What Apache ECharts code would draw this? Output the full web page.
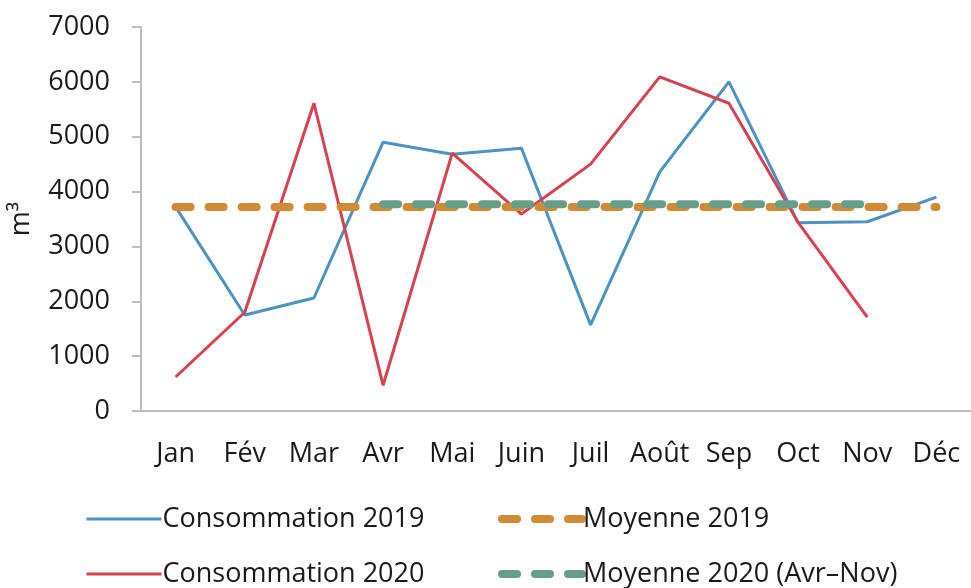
<!DOCTYPE html>
<html>
<head>
<meta charset="utf-8">
<script src="https://cdn.jsdelivr.net/npm/echarts@6/dist/echarts.min.js"></script>
<style>
html,body{margin:0;padding:0;background:#fff;}
#chart{width:971px;height:588px;}
</style>
</head>
<body>
<div id="chart"></div>
<script>
var categories = ['Jan','Fév','Mar','Avr','Mai','Juin','Juil','Août','Sep','Oct','Nov','Déc'];
var conso2019 = [3720, 1750, 2060, 4900, 4680, 4790, 1570, 4360, 6000, 3430, 3450, 3900];
var conso2020 = [620, 1800, 5610, 470, 4700, 3590, 4500, 6090, 5610, 3440, 1710, null];
var moy2019 = [3720, 3720, 3720, 3720, 3720, 3720, 3720, 3720, 3720, 3720, 3720, 3720];
var moy2020 = [null, null, null, 3770, 3770, 3770, 3770, 3770, 3770, 3770, 3770, null];
var yTicks = { min: 0, max: 7000, interval: 1000 };
var seriesNames = ['Consommation 2019', 'Moyenne 2019', 'Consommation 2020', 'Moyenne 2020 (Avr–Nov)'];

var FONT = 'Open Sans';
var FS = 27;
var COLORS = { c19: '#4A93C3', c20: '#D8414F', m19: '#D18C33', m20: '#679E8A' };
var chart = echarts.init(document.getElementById('chart'), null, {renderer: 'canvas'});
var dashed = function (color) {
  return { color: color, width: 8, type: [15, 18], cap: 'round', join: 'round' };
};
var solid = function (color) {
  return { color: color, width: 3, type: 'solid', cap: 'butt' };
};
function legendFor(name, left, top, width, lineStyle) {
  return {
    show: true,
    orient: 'horizontal',
    left: left, top: top,
    itemWidth: width, itemHeight: 14,
    itemStyle: { opacity: 0 },
    textStyle: { fontFamily: FONT, fontSize: FS, color: '#1a1a1a', lineHeight: 34, padding: [0, 0, 0, -4] },
    data: [{ name: name, itemStyle: { opacity: 0 }, lineStyle: lineStyle }]
  };
}
chart.setOption({
  animation: false,
  backgroundColor: '#ffffff',
  textStyle: { fontFamily: FONT },
  grid: { left: 140, top: 27, width: 837, height: 384 },
  legend: [
    legendFor(seriesNames[0], 80, 497, 75, solid(COLORS.c19)),
    legendFor(seriesNames[2], 80, 552, 75, solid(COLORS.c20)),
    legendFor(seriesNames[1], 493, 497, 80, dashed(COLORS.m19)),
    legendFor(seriesNames[3], 493, 552, 80, dashed(COLORS.m20))
  ],
  xAxis: {
    type: 'category',
    data: categories,
    boundaryGap: true,
    axisLine: { lineStyle: { color: '#bcbcbc', width: 2 } },
    axisTick: { show: false },
    axisLabel: { margin: 30, interval: 0, hideOverlap: false, fontFamily: FONT, fontSize: FS, color: '#1a1a1a' }
  },
  yAxis: {
    type: 'value',
    min: yTicks.min, max: yTicks.max, interval: yTicks.interval,
    name: 'm³',
    nameLocation: 'middle',
    nameGap: 106,
    nameRotate: 90,
    nameTextStyle: { fontFamily: FONT, fontSize: FS, color: '#1a1a1a' },
    axisLine: { show: true, lineStyle: { color: '#bcbcbc', width: 2 } },
    axisTick: { show: true, length: 9, lineStyle: { color: '#bcbcbc', width: 2 } },
    splitLine: { show: false },
    axisLabel: {
      margin: 31, fontFamily: FONT, fontSize: FS, color: '#1a1a1a',
      formatter: function (v) { return String(v); }
    }
  },
  series: [
    {
      name: seriesNames[0], type: 'line', data: conso2019, symbol: 'none', z: 2,
      lineStyle: solid(COLORS.c19), itemStyle: { color: COLORS.c19 }
    },
    {
      name: seriesNames[2], type: 'line', data: conso2020, symbol: 'none', z: 3,
      lineStyle: solid(COLORS.c20), itemStyle: { color: COLORS.c20 }
    },
    {
      name: seriesNames[1], type: 'line', data: moy2019, symbol: 'none', z: 4,
      lineStyle: dashed(COLORS.m19), itemStyle: { color: COLORS.m19 }
    },
    {
      name: seriesNames[3], type: 'line', data: moy2020, symbol: 'none', z: 5,
      lineStyle: dashed(COLORS.m20), itemStyle: { color: COLORS.m20 }
    }
  ]
});
</script>
</body>
</html>
